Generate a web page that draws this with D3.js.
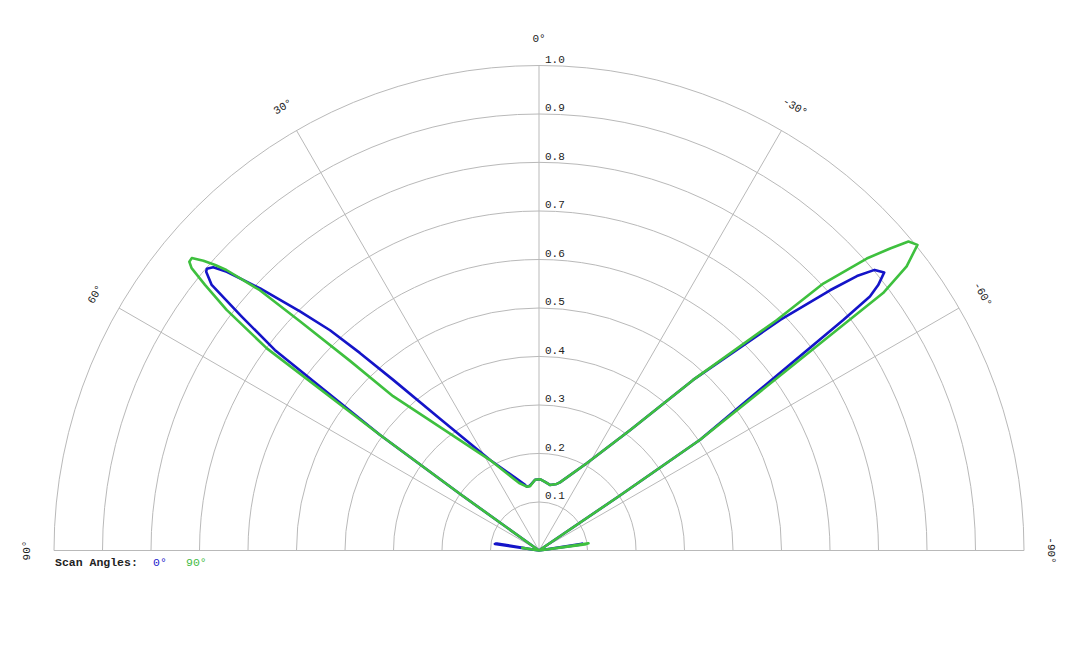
<!DOCTYPE html>
<html>
<head>
<meta charset="utf-8">
<script src="https://cdn.jsdelivr.net/npm/d3@7"></script>
<style>
  body { margin: 0; background: #fff; }
  text { font-family: "Liberation Mono", "DejaVu Sans Mono", monospace; }
</style>
</head>
<body>
<div id="chart"></div>
<script>
// ring values and spoke angles (degrees, positive = left of 0)
var ringTicks = [0.1, 0.2, 0.3, 0.4, 0.5, 0.6, 0.7, 0.8, 0.9, 1.0];
var spokeAngles = [60, 30, 0, -30, -60];
var angleLabels = [90, 60, 30, 0, -30, -60, -90];

// scan angle 0° (blue)
var blueAngles = [90, 83, 81.5, 80.5, 79, 57, 54.4, 54.0, 52.8, 51.8, 50.95, 50.06, 49.7, 49.0, 48.24, 46.78, 45.0, 43.5, 42.2, 40.5, 36.9, 28.4, 16.4, 12.5, 10.9, 8, 3.2, -0.8, -5, -9.5, -14.9, -17.1, -28.7, -37.1, -42.1, -46.3, -48.2, -49.2, -50.1, -51.15, -51.96, -52.5, -52.85, -55.5, -55.8, -57, -79, -81, -82, -83, -90];
var blueValues = [0, 0, 0.092, 0.088, 0, 0, 0.2, 0.405, 0.684, 0.78, 0.869, 0.895, 0.898, 0.89, 0.863, 0.789, 0.697, 0.626, 0.55, 0.462, 0.34, 0.212, 0.152, 0.14, 0.134, 0.135, 0.146, 0.147, 0.142, 0.137, 0.142, 0.147, 0.205, 0.311, 0.474, 0.688, 0.805, 0.866, 0.902, 0.914, 0.888, 0.86, 0.787, 0.403, 0.2, 0, 0, 0.09, 0.085, 0, 0];

// scan angle 90° (green)
var greenAngles = [90, 83, 81, 80, 57, 54.4, 54.0, 53.4, 52.4, 51.5, 50.9, 50.45, 49.9, 49.2, 48.6, 48.1, 47.0, 46.2, 44.9, 43.4, 38.7, 28.4, 16.4, 10.9, 7.9, 3.2, -0.8, -5, -9.5, -14.9, -17.1, -28.7, -37.1, -42.1, -45.9, -46.8, -48.3, -49.3, -50.1, -51.08, -52.3, -53.2, -53.4, -55.5, -55.8, -57, -80, -81.7, -82.5, -84, -90];
var greenValues = [0, 0, 0.035, 0, 0, 0.2, 0.405, 0.699, 0.813, 0.88, 0.923, 0.935, 0.936, 0.914, 0.89, 0.866, 0.787, 0.683, 0.552, 0.438, 0.326, 0.212, 0.145, 0.134, 0.134, 0.146, 0.147, 0.142, 0.137, 0.142, 0.147, 0.205, 0.311, 0.474, 0.683, 0.804, 0.905, 0.955, 0.993, 1.003, 0.958, 0.886, 0.793, 0.403, 0.2, 0, 0, 0.103, 0.095, 0, 0];

var width = 1080, height = 648;
var cx = 539, cy = 550.5, radius = 485;

var svg = d3.select("#chart").append("svg")
    .attr("width", width)
    .attr("height", height);

var g = svg.append("g")
    .attr("transform", "translate(" + cx + "," + cy + ")");

// angle in degrees -> radians for d3.lineRadial (clockwise from top)
var a = d3.scaleLinear().domain([-90, 90]).range([Math.PI / 2, -Math.PI / 2]);
var r = d3.scaleLinear().domain([0, 1]).range([0, radius]);

var gridColor = "#b9b9b9";

// rings
ringTicks.forEach(function(t) {
  var p = d3.path();
  p.arc(0, 0, r(t), Math.PI, 2 * Math.PI);
  g.append("path")
      .attr("d", p.toString())
      .attr("fill", "none")
      .attr("stroke", gridColor)
      .attr("stroke-width", 1);
});

// spokes
spokeAngles.forEach(function(d) {
  g.append("line")
      .attr("x1", 0).attr("y1", 0)
      .attr("x2", r(1) * Math.sin(a(d)))
      .attr("y2", -r(1) * Math.cos(a(d)))
      .attr("stroke", gridColor)
      .attr("stroke-width", 1);
});
// base line (+90 / -90)
g.append("line")
    .attr("x1", -r(1)).attr("y1", 0)
    .attr("x2", r(1)).attr("y2", 0)
    .attr("stroke", gridColor)
    .attr("stroke-width", 1);

// ring labels
g.selectAll(".rlabel")
    .data(ringTicks)
  .enter().append("text")
    .attr("class", "rlabel")
    .attr("x", 6)
    .attr("y", function(d) { return -r(d) - 3; })
    .attr("font-size", "11px")
    .attr("fill", "#222")
    .text(function(d) { return d.toFixed(1); });

// angle labels
g.selectAll(".alabel")
    .data(angleLabels)
  .enter().append("text")
    .attr("class", "alabel")
    .attr("text-anchor", "middle")
    .attr("dominant-baseline", "central")
    .attr("font-size", "11px")
    .attr("fill", "#222")
    .attr("transform", function(d) {
      var rr = radius + 27;
      var x = rr * Math.sin(a(d)), y = -rr * Math.cos(a(d));
      return "translate(" + x + "," + y + ") rotate(" + (-d) + ")";
    })
    .text(function(d) { return d + "\u00b0"; });

// series
var line = d3.lineRadial()
    .angle(function(d) { return a(d[0]); })
    .radius(function(d) { return r(d[1]); });

var blueData = d3.zip(blueAngles, blueValues);
var greenData = d3.zip(greenAngles, greenValues);

g.append("path")
    .datum(blueData)
    .attr("d", line)
    .attr("fill", "none")
    .attr("stroke", "#1414c8")
    .attr("stroke-width", 2.6)
    .attr("stroke-linejoin", "round");

g.append("path")
    .datum(greenData)
    .attr("d", line)
    .attr("fill", "none")
    .attr("stroke", "#3ec03e")
    .attr("stroke-width", 2.6)
    .attr("stroke-linejoin", "round");

// legend
var legend = svg.append("g").attr("transform", "translate(55,566)");
legend.append("text")
    .attr("font-size", "11.5px")
    .attr("font-weight", "bold")
    .attr("fill", "#222")
    .text("Scan Angles:");
legend.append("text")
    .attr("x", 98)
    .attr("font-size", "11.5px")
    .attr("fill", "#2222cc")
    .text("0\u00b0");
legend.append("text")
    .attr("x", 131)
    .attr("font-size", "11.5px")
    .attr("fill", "#44bb44")
    .text("90\u00b0");
</script>
</body>
</html>
